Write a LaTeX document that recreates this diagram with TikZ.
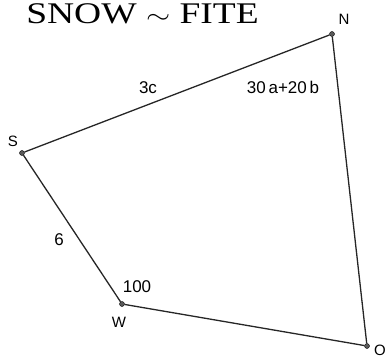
\documentclass[tikz,border=0pt]{standalone}
\usepackage{fontspec}
\setmainfont{Liberation Serif}
\setsansfont{Liberation Sans}
\usetikzlibrary{positioning}

\tikzset{
  corner/.style={circle,fill=black!65,draw=black,inner sep=0pt,minimum size=5pt},
  edge/.style={line width=1.3pt,black!85},
  lbl/.style={font=\sffamily\fontsize{17}{17}\selectfont,inner sep=0pt},
  pt/.style={font=\sffamily\fontsize{15}{15}\selectfont,inner sep=0pt}
}

\begin{document}
\begin{tikzpicture}[x=1pt,y=-1pt]
\useasboundingbox (0,0) rectangle (388,358);

\node[anchor=base west,inner sep=0pt,xscale=1.25,font=\fontsize{30}{30}\selectfont] (title) at (26,24) {SNOW $\sim$ FITE};

% corners
\node[corner] (N) at (332,34) {};
\node[corner] (S) at (22,153) {};
\node[corner] (W) at (122,304) {};
\node[corner] (O) at (367,346) {};

\node[pt] (lN) at (344,19) {N};
\node[pt] (lS) at (13,141) {S};
\node[pt] (lW) at (119,322) {W};
\node[pt] (lO) at (380,350) {O};

% sides
\draw[edge] (S) -- (N) -- (O) -- (W) -- (S);

\node[lbl] (tc) at (148,88) {3c};
\node[lbl] (tab) at (283,87) {30\,a+20\,b};
\node[lbl] (tsix) at (59,240) {6};
\node[lbl] (thun) at (137,287) {100};
\end{tikzpicture}
\end{document}
